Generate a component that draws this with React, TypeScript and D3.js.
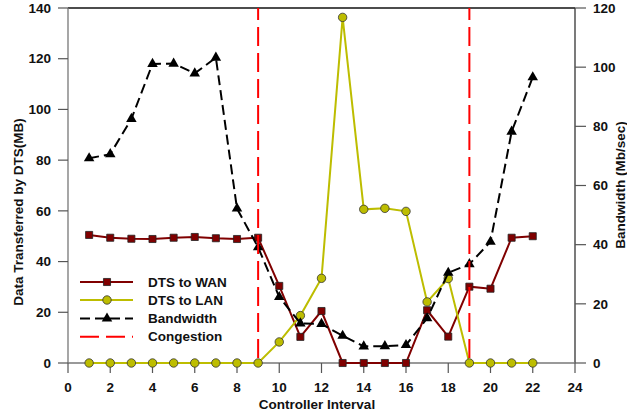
import { useEffect, useRef } from 'react';
import * as d3 from 'd3';

const intervals = [1, 2, 3, 4, 5, 6, 7, 8, 9, 10, 11, 12, 13, 14, 15, 16, 17, 18, 19, 20, 21, 22];
const dtsToWan = [50.5, 49.4, 49.0, 48.9, 49.4, 49.7, 49.2, 48.9, 49.4, 30.4, 10.3, 20.5, 0, 0, 0, 0, 20.8, 10.4, 30.1, 29.3, 49.4, 50.0];
const dtsToLan = [0, 0, 0, 0, 0, 0, 0, 0, 0, 8.3, 18.7, 33.4, 136.3, 60.6, 61.0, 59.8, 24.1, 33.3, 0, 0, 0, 0];
const bandwidth = [69.2, 70.6, 82.5, 101.1, 101.2, 97.9, 103.2, 52.2, 39.1, 22.3, 13.4, 13.2, 9.2, 5.6, 5.7, 6.1, 15.1, 30.5, 33.4, 41.0, 78.2, 96.6];
const congestionAt = [9, 19];
const xTicks = [0, 2, 4, 6, 8, 10, 12, 14, 16, 18, 20, 22, 24];
const leftTicks = [0, 20, 40, 60, 80, 100, 120, 140];
const rightTicks = [0, 20, 40, 60, 80, 100, 120];
const legendItems = ['DTS to WAN', 'DTS to LAN', 'Bandwidth', 'Congestion'];

const WAN_COLOR = '#800000';
const LAN_COLOR = '#bdbd00';
const FONT = '"Liberation Sans", Arial, sans-serif';

const renderChart = (svgEl: SVGSVGElement) => {
    const svg = d3.select(svgEl);
    svg.selectAll('*').remove();

    const left = 68, right = 575, top = 8, bottom = 363;

    const x = d3.scaleLinear().domain([0, 24]).range([left, right]);
    const yLeft = d3.scaleLinear().domain([0, 140]).range([bottom, top]);
    const yRight = d3.scaleLinear().domain([0, 120]).range([bottom, top]);

    const g = svg.append('g')
        .style('font-family', FONT)
        .style('font-weight', 'bold')
        .style('font-size', '13.5px');

    // frame: top + right dark, left + bottom gray
    g.append('line').attr('x1', left).attr('x2', right).attr('y1', top).attr('y2', top)
        .attr('stroke', '#111').attr('stroke-width', 1.5);

    // left axis
    const la = g.append('g');
    la.append('line').attr('x1', left).attr('x2', left).attr('y1', top).attr('y2', bottom)
        .attr('stroke', '#777').attr('stroke-width', 1.3);
    leftTicks.forEach(t => {
        la.append('line').attr('x1', left - 10).attr('x2', left).attr('y1', yLeft(t)).attr('y2', yLeft(t))
            .attr('stroke', '#555').attr('stroke-width', 1.2);
        la.append('text').attr('x', 51).attr('y', yLeft(t)).attr('dy', '0.35em')
            .attr('text-anchor', 'end').attr('fill', '#111').text(t);
    });

    // right axis
    const ra = g.append('g');
    ra.append('line').attr('x1', right).attr('x2', right).attr('y1', top).attr('y2', bottom)
        .attr('stroke', '#333').attr('stroke-width', 1.3);
    rightTicks.forEach(t => {
        ra.append('line').attr('x1', right).attr('x2', right + 11).attr('y1', yRight(t)).attr('y2', yRight(t))
            .attr('stroke', '#555').attr('stroke-width', 1.2);
        ra.append('text').attr('x', 593).attr('y', yRight(t)).attr('dy', '0.35em')
            .attr('text-anchor', 'start').attr('fill', '#111').text(t);
    });

    // bottom axis
    const ba = g.append('g');
    ba.append('line').attr('x1', left).attr('x2', right).attr('y1', bottom).attr('y2', bottom)
        .attr('stroke', '#777').attr('stroke-width', 1.3);
    xTicks.forEach(t => {
        ba.append('line').attr('x1', x(t)).attr('x2', x(t)).attr('y1', bottom).attr('y2', bottom + 10)
            .attr('stroke', '#555').attr('stroke-width', 1.2);
        ba.append('text').attr('x', x(t)).attr('y', 392)
            .attr('text-anchor', 'middle').attr('fill', '#111').text(t);
    });

    // axis titles
    g.append('text').attr('transform', 'translate(23,212) rotate(-90)')
        .attr('text-anchor', 'middle').attr('fill', '#111').text('Data Transferred by DTS(MB)');
    g.append('text').attr('transform', 'translate(625,185) rotate(-90)')
        .attr('text-anchor', 'middle').attr('fill', '#111').text('Bandwidth (Mb/sec)');
    g.append('text').attr('x', 317).attr('y', 409)
        .attr('text-anchor', 'middle').attr('fill', '#111').text('Controller Interval');

    const lineLeft = d3.line<number>().x((d, i) => x(intervals[i])).y(d => yLeft(d));
    const lineRight = d3.line<number>().x((d, i) => x(intervals[i])).y(d => yRight(d));

    const square = d3.symbol().type(d3.symbolSquare).size(50);
    const circle = d3.symbol().type(d3.symbolCircle).size(56);
    const triangle = d3.symbol().type(d3.symbolTriangle).size(48);

    // DTS to WAN
    g.append('path').attr('d', lineLeft(dtsToWan)).attr('fill', 'none')
        .attr('stroke', WAN_COLOR).attr('stroke-width', 2);
    g.append('g').selectAll('path').data(dtsToWan).enter().append('path')
        .attr('transform', (d, i) => `translate(${x(intervals[i])},${yLeft(d)})`)
        .attr('d', square()).attr('fill', WAN_COLOR).attr('stroke', '#222').attr('stroke-width', 0.8);

    // DTS to LAN
    g.append('path').attr('d', lineLeft(dtsToLan)).attr('fill', 'none')
        .attr('stroke', LAN_COLOR).attr('stroke-width', 2);
    g.append('g').selectAll('path').data(dtsToLan).enter().append('path')
        .attr('transform', (d, i) => `translate(${x(intervals[i])},${yLeft(d)})`)
        .attr('d', circle()).attr('fill', LAN_COLOR).attr('stroke', '#333').attr('stroke-width', 0.8);

    // Bandwidth
    g.append('path').attr('d', lineRight(bandwidth)).attr('fill', 'none')
        .attr('stroke', '#000').attr('stroke-width', 2).attr('stroke-dasharray', '10,5');
    g.append('g').selectAll('path').data(bandwidth).enter().append('path')
        .attr('transform', (d, i) => `translate(${x(intervals[i])},${yRight(d)})`)
        .attr('d', triangle()).attr('fill', '#000');

    // Congestion markers
    congestionAt.forEach(c => {
        g.append('line').attr('x1', x(c)).attr('x2', x(c)).attr('y1', top).attr('y2', bottom)
            .attr('stroke', '#ff0000').attr('stroke-width', 2)
            .attr('stroke-dasharray', '19,7').attr('stroke-dashoffset', 7);
    });

    // legend
    const legendY = [282, 300, 318.5, 336.7];
    const lg = g.append('g');
    legendItems.forEach((name, i) => {
        const y = legendY[i];
        const ln = lg.append('line').attr('x1', 80).attr('x2', 133).attr('y1', y).attr('y2', y).attr('stroke-width', 2);
        if (i === 0) {
            ln.attr('stroke', WAN_COLOR);
            lg.append('path').attr('transform', `translate(107,${y})`).attr('d', square())
                .attr('fill', WAN_COLOR).attr('stroke', '#222').attr('stroke-width', 0.8);
        } else if (i === 1) {
            ln.attr('stroke', LAN_COLOR);
            lg.append('path').attr('transform', `translate(107,${y})`).attr('d', circle())
                .attr('fill', LAN_COLOR).attr('stroke', '#333').attr('stroke-width', 0.8);
        } else if (i === 2) {
            ln.attr('stroke', '#000').attr('stroke-dasharray', '10,5');
            lg.append('path').attr('transform', `translate(107,${y})`).attr('d', triangle()).attr('fill', '#000');
        } else {
            ln.attr('stroke', '#ff0000').attr('stroke-dasharray', '19,7');
        }
        lg.append('text').attr('x', 148).attr('y', y).attr('dy', '0.35em').attr('fill', '#111').text(name);
    });
};

const App = () => {
    const ref = useRef<SVGSVGElement>(null);

    useEffect(() => {
        if (ref.current) renderChart(ref.current);
    }, []);

    return (
        <svg ref={ref} width={627} height={414}
            style={{ position: 'absolute', left: 0, top: 0, background: '#fff' }} />
    );
};

export default App;
